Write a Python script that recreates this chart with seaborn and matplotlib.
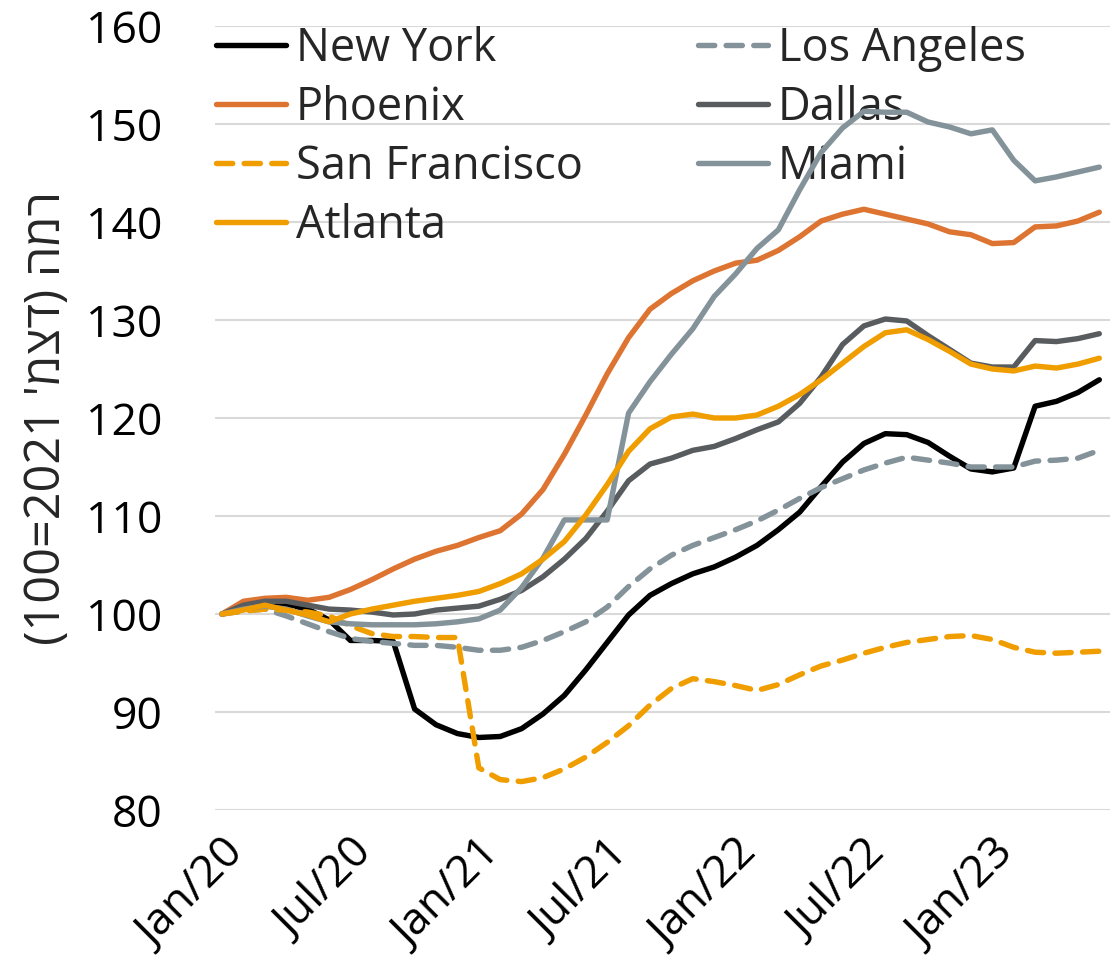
import numpy as np
import pandas as pd
import matplotlib
matplotlib.use("Agg")
import matplotlib.pyplot as plt
import seaborn as sns

# ---------------- data (index, Dec 2021 = 100) ----------------
months = pd.date_range("2020-01-01", periods=42, freq="MS")
month_idx = np.arange(len(months))

new_york = [100.0, 100.5, 101.0, 101.0, 100.5, 99.4, 97.3, 97.3, 97.2, 90.3,
            88.7, 87.8, 87.4, 87.5, 88.3, 89.8, 91.7, 94.3, 97.1, 99.9,
            101.9, 103.1, 104.1, 104.8, 105.8, 107.0, 108.6, 110.4, 113.0, 115.5,
            117.4, 118.4, 118.3, 117.5, 116.1, 114.8, 114.5, 114.9, 121.2, 121.7,
            122.6, 123.9]
los_angeles = [100.0, 100.3, 100.5, 99.8, 99.0, 98.2, 97.5, 97.2, 97.0, 96.8,
               96.8, 96.6, 96.3, 96.3, 96.6, 97.3, 98.2, 99.2, 100.7, 102.8,
               104.6, 106.0, 107.0, 107.8, 108.6, 109.5, 110.6, 111.8, 112.9, 113.8,
               114.7, 115.4, 116.0, 115.7, 115.4, 115.0, 115.0, 115.0, 115.6, 115.7,
               115.9, 116.7]
phoenix = [100.0, 101.3, 101.6, 101.7, 101.4, 101.7, 102.5, 103.5, 104.6, 105.6,
           106.4, 107.0, 107.8, 108.5, 110.2, 112.7, 116.3, 120.3, 124.5, 128.2,
           131.1, 132.7, 134.0, 135.0, 135.8, 136.1, 137.1, 138.5, 140.1, 140.8,
           141.3, 140.8, 140.3, 139.8, 139.0, 138.7, 137.8, 137.9, 139.5, 139.6,
           140.1, 141.0]
dallas = [100.0, 100.9, 101.3, 101.3, 100.9, 100.5, 100.4, 100.2, 99.9, 100.0,
          100.4, 100.6, 100.8, 101.5, 102.4, 103.8, 105.6, 107.7, 110.5, 113.6,
          115.3, 115.9, 116.7, 117.1, 117.9, 118.8, 119.6, 121.5, 124.2, 127.5,
          129.4, 130.1, 129.9, 128.4, 127.0, 125.6, 125.2, 125.2, 127.9, 127.8,
          128.1, 128.6]
san_francisco = [100.0, 100.3, 100.5, 100.4, 100.2, 99.8, 98.8, 98.0, 97.7, 97.7,
                 97.6, 97.6, 84.3, 83.1, 82.9, 83.3, 84.2, 85.4, 86.9, 88.6,
                 90.7, 92.4, 93.4, 93.1, 92.7, 92.2, 92.8, 93.8, 94.7, 95.3,
                 96.0, 96.6, 97.1, 97.4, 97.7, 97.8, 97.4, 96.6, 96.1, 96.0,
                 96.1, 96.2]
miami = [100.0, 100.5, 100.8, 100.5, 99.8, 99.2, 99.0, 98.9, 98.9, 98.9,
         99.0, 99.2, 99.5, 100.4, 102.7, 105.7, 109.6, 109.6, 109.6, 120.5,
         123.7, 126.5, 129.1, 132.4, 134.7, 137.3, 139.2, 143.3, 147.1, 149.6,
         151.3, 151.2, 151.2, 150.2, 149.7, 149.0, 149.4, 146.3, 144.2, 144.6,
         145.1, 145.6]
atlanta = [100.0, 100.4, 100.9, 100.4, 99.9, 99.2, 100.0, 100.5, 100.9, 101.3,
           101.6, 101.9, 102.3, 103.1, 104.1, 105.6, 107.4, 110.1, 113.2, 116.6,
           118.9, 120.1, 120.4, 120.0, 120.0, 120.3, 121.2, 122.4, 123.9, 125.6,
           127.3, 128.7, 129.0, 128.0, 126.8, 125.5, 125.0, 124.8, 125.3, 125.1,
           125.5, 126.1]

series = [
    ("New York", new_york, "#000000", "solid"),
    ("Los Angeles", los_angeles, "#84939a", "dash"),
    ("Phoenix", phoenix, "#dd7431", "solid"),
    ("Dallas", dallas, "#595c5f", "solid"),
    ("San Francisco", san_francisco, "#f09d00", "dash"),
    ("Miami", miami, "#84939a", "solid"),
    ("Atlanta", atlanta, "#f09d00", "solid"),
]

tick_pos = month_idx[::6]
tick_labels = [d.strftime("%b/%y") for d in months[::6]]
y_label = "(100=2021 'מצד) המר"   # visual order of "רמה (דצמ' 2021=100)"

# ---------------- plot ----------------
sns.set_theme(style="white")
plt.rcParams["font.family"] = ["Open Sans", "DejaVu Sans"]

fig = plt.figure(figsize=(11.19, 9.8), dpi=100)
ax = fig.add_axes([215 / 1119, 170 / 980, 895 / 1119, 784 / 980])

lines = {}
for name, vals, color, style in series:
    kw = dict(color=color, linewidth=3.9, solid_joinstyle="round", solid_capstyle="round")
    if style == "dash":
        kw.update(dashes=(3.0, 2.1), dash_capstyle="round")
    sns.lineplot(x=month_idx, y=vals, ax=ax, label=name, **kw)
    lines[name] = ax.lines[-1]

ax.set_xlim(-0.33, 41.5)
ax.set_ylim(80, 160)
ax.set_yticks(np.arange(80, 161, 10))
ax.set_xticks(tick_pos)
ax.set_xticklabels(tick_labels, rotation=45, ha="right", rotation_mode="anchor")
ax.tick_params(axis="both", length=0, labelsize=32, colors="#000000")
ax.tick_params(axis="x", pad=16)
ax.tick_params(axis="y", pad=38)
ax.grid(axis="y", color="#d9d9d9", linewidth=1.5)
ax.grid(axis="x", visible=False)
ax.set_axisbelow(True)
for s in ax.spines.values():
    s.set_visible(False)

ax.set_xlabel("")
ax.set_ylabel(y_label, fontsize=35, family=["Open Sans", "DejaVu Sans"], labelpad=10)

order = ["New York", "Phoenix", "San Francisco", "Atlanta", "Los Angeles", "Dallas", "Miami"]
leg = ax.legend([lines[n] for n in order], order, ncol=2, frameon=False,
                loc="upper left", bbox_to_anchor=(216 / 1119, 1 - 26 / 980),
                bbox_transform=fig.transFigure, fontsize=32.5,
                handlelength=1.55, handletextpad=0.22, columnspacing=2.55,
                labelspacing=0.29, borderpad=0, borderaxespad=0)
leg.set_zorder(1)

fig.savefig("out.png", dpi=100)
